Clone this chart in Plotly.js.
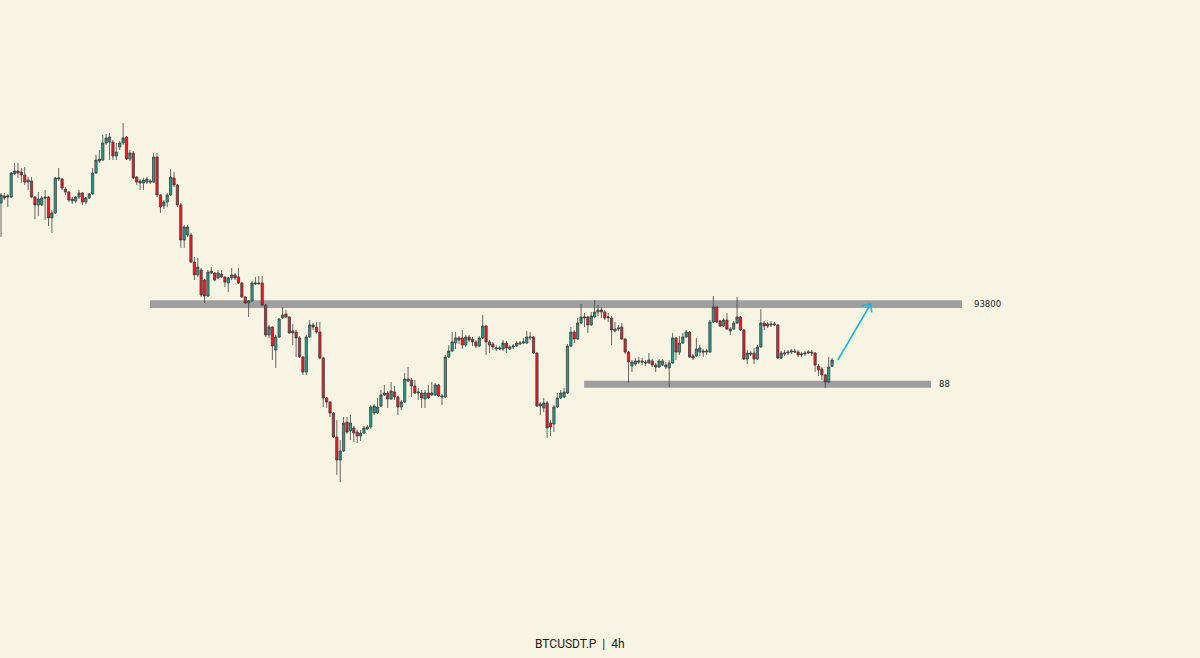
<!DOCTYPE html>
<html>
<head>
<meta charset="utf-8">
<script src="https://cdn.plot.ly/plotly-3.0.1.min.js"></script>
<style>
  html, body { margin: 0; padding: 0; background: #f8f4e3; }
  #chart { width: 1200px; height: 658px; }
</style>
</head>
<body>
<div id="chart"></div>
<script>
// BTCUSDT.P 4h candles
const openP = [
101180,101690,101620,101620,103300,103520,103440,103230,102710,102790,
101620,101040,101040,101620,101620,100090,100450,102930,102930,102200,
101980,101330,101330,101620,101910,101250,101550,101840,103370,104250,
104320,105560,105630,105630,104610,105270,105560,106000,104390,104830,
103080,102640,102640,102710,102790,102710,104540,101770,100960,101250,
101770,103010,102500,101040,98480,98850,98850,96870,95930,96290,
95560,94390,96070,96070,95710,96000,95780,95340,95710,95930,
95780,95340,94320,93880,94030,95270,95340,95340,93730,91550,
92130,90450,91400,92790,93080,92860,91690,91760,91330,89940,
88840,91400,92280,92130,91760,89870,86950,86650,85850,84100,
82420,83080,85190,84540,84760,84460,84170,84390,84680,84830,
85850,85850,86360,87310,87310,86870,87390,87020,86290,86650,
88190,88260,87820,87310,87310,86870,87310,87170,87170,87900,
87020,87020,89940,90380,90960,91330,91330,90810,91400,91250,
91040,90740,91330,92200,91040,90890,90520,90520,90520,90960,
90520,90670,90740,90890,90960,90960,91330,91400,90230,86360,
86220,86580,85120,85050,86290,86950,87020,87310,90740,91760,
91250,92420,92790,92860,92280,92860,93220,93370,93220,92790,
92790,91840,91980,92130,91250,90300,89280,89430,89570,89650,
89570,89500,89650,89350,89210,89350,89350,89140,89500,91330,
90300,90960,91400,91760,90010,90010,90300,90380,90300,90300,
92490,93590,92570,92200,92640,91840,91980,92420,92860,91910,
89790,90230,90230,89790,90670,92420,92350,92280,92280,92280,
89870,90160,90230,90300,90380,90300,90090,90160,90230,90300,
90230,89280,89060,88630,88110,89260];
const highP = [
101910,101910,101840,103440,104100,104100,103740,103810,103080,103080,
101690,101980,101690,102130,101690,100670,103080,103740,103010,102350,
102060,101620,101690,102130,101980,101620,101910,103740,104690,105050,
106150,106220,106290,105780,105560,105710,107020,106070,105050,104980,
103150,102930,103010,103080,102930,104830,104830,101840,101400,101910,
103660,103440,102570,101180,99580,99580,98990,97240,97170,96440,
95630,96290,96510,96140,96290,96290,95850,95780,96440,96070,
96440,95410,94390,94100,95490,95780,95850,95850,93810,92280,
92200,91550,92790,93590,93370,92930,92350,91910,91470,90010,
91550,92640,92420,92490,92490,89940,87020,86730,85920,85340,
83880,85560,85560,85710,84900,84610,84610,84900,84980,86440,
86510,86940,87530,87900,87460,88110,87820,87090,86800,88770,
89210,88410,88260,87680,87530,87530,87900,88110,88040,87970,
87240,90090,90810,91760,91760,91470,91910,91550,91550,91400,
91180,91470,93010,92280,91180,91040,90810,90740,91180,91110,
90810,90890,91110,91110,91330,91840,91760,91470,90300,86650,
86940,86730,85340,86440,87310,87530,87680,90890,92130,91910,
92790,93810,93150,92930,93220,94100,93730,93590,93370,93150,
92930,92490,92280,92420,91330,90380,89720,89870,89940,89870,
89720,90230,89790,89500,89790,89790,89570,89720,91690,91400,
91470,91690,91910,91840,90160,91330,90810,90520,90520,92640,
94390,93660,92640,92790,93150,92130,92570,94320,92930,91980,
90450,90380,90600,90810,93440,92570,92490,92570,92490,92350,
90380,90450,90450,90520,90520,90450,90300,90380,90450,90450,
90300,89430,89210,88700,89940,89870];
const lowP = [
98700,101400,100890,101550,103230,103010,102640,102500,102130,101550,
100010,100230,100960,99940,99500,98990,100380,102790,102130,101770,
101250,101110,101180,101470,101040,101110,101470,101770,103300,104100,
104250,105420,104320,104320,104320,105050,105420,104320,104250,102930,
102500,102130,102130,102570,102570,102640,101620,100450,100740,100890,
101690,102350,100890,97900,97900,98700,96800,95560,95780,94320,
93880,94320,96000,95490,95630,95710,95050,94680,95560,95560,
95270,94250,93810,92860,93960,95200,95200,93660,91400,91330,
89720,89140,91330,92710,92790,91620,90810,89940,89870,88630,
88630,91330,91910,91620,89790,86290,86220,85560,84030,81330,
80810,83000,84320,83880,83730,83660,83810,84320,84610,84680,
85710,85780,86290,87090,86220,86800,86800,85710,86070,86580,
88110,87020,87240,86800,86220,86220,86870,87090,87090,87020,
86440,86950,89870,90300,90520,90890,90520,90670,91040,90740,
90600,90670,91250,90090,90230,90450,90380,90450,90380,90230,
90450,90520,90670,90810,90890,90890,91180,90160,86290,85710,
85920,84030,84170,84460,86220,86870,86950,87240,90670,90960,
91180,92350,92130,91690,92200,92790,92930,92790,92640,92490,
90810,91760,91840,91180,90160,88040,88840,89280,89430,89350,
89280,89430,89210,88840,89140,89280,89060,87750,89430,89720,
90090,90890,91330,89870,89720,89940,90010,89940,90090,90230,
92420,92420,92130,92130,91910,91550,91910,92350,91840,89720,
89430,90010,89430,89720,90600,91910,92060,92130,92200,89790,
89790,90010,90090,90160,90230,89940,89940,90010,90160,90010,
88840,88550,88260,87680,88040,89210];
const closeP = [
101770,101550,101690,103370,103520,103370,103230,102710,102860,101620,
101040,101470,101550,101550,100090,100450,103010,103010,102280,101980,
101400,101470,101620,101910,101250,101550,101840,103370,104320,104390,
105560,105930,106000,104610,104900,105560,105930,104390,104830,103010,
102710,102790,102860,102930,102710,104540,101770,100890,101250,101770,
103080,102500,101040,98480,99430,99430,96870,95930,96510,94470,
94390,96140,96210,95560,96070,95780,95410,95710,95930,95710,
95340,94320,93880,94030,95340,95340,95300,93730,91550,92130,
90740,91400,92710,93010,92860,91690,91840,91330,89940,88840,
91400,92280,92130,91760,89870,86950,86650,85850,84100,82420,
83080,85120,84460,85120,84390,84170,84390,84760,84830,86290,
86360,86290,87170,87170,86870,87460,87020,86290,86650,88330,
88330,87820,87310,87380,86950,87310,86950,87310,87900,87090,
87090,89940,90380,91040,91330,91180,90810,91400,91180,91040,
90740,91330,92200,91040,90810,90670,90600,90600,90960,90600,
90670,90740,90960,90960,91040,91400,91400,90230,86360,86510,
86580,84760,84830,86290,86950,87310,87380,90740,91760,91250,
92420,92860,92860,92280,92930,93220,93370,93220,92790,92860,
91910,91980,92060,91250,90300,89570,89570,89650,89650,89570,
89500,89720,89350,89210,89650,89650,89210,89500,91330,90300,
90960,91400,91760,89940,89870,90520,90600,90300,90380,92490,
93590,92490,92200,92640,91980,91980,92420,92860,91910,89790,
90230,90160,89790,90670,92420,92200,92200,92350,92350,89870,
90230,90230,90300,90380,90300,90090,90160,90230,90300,90230,
89350,88990,88630,88110,89210,89720];

// Drawn levels and labels
const resistanceLevel = 93800;
const resistanceLabel = "93800";
const supportLevel = 88000;
const supportLabel = "88";
const chartTitle = "BTCUSDT.P  |  4h";

const xIdx = openP.map((_, i) => i);

const trace = {
  type: 'candlestick',
  x: xIdx,
  open: openP, high: highP, low: lowP, close: closeP,
  increasing: { fillcolor: '#1fa08a', line: { color: '#404040', width: 0.8 } },
  decreasing: { fillcolor: '#ff1020', line: { color: '#404040', width: 0.8 } },
  whiskerwidth: 0,
  hoverinfo: 'skip',
  showlegend: false
};

const bandGray = '#9e9e9e';
const arrowColor = '#1eb6d8';

const layout = {
  width: 1200, height: 658,
  margin: { l: 0, r: 0, t: 0, b: 0 },
  paper_bgcolor: '#f8f4e3',
  plot_bgcolor: '#f8f4e3',
  showlegend: false,
  boxgap: 0.05,
  xaxis: { range: [-0.3, 353.47], visible: false, showgrid: false, zeroline: false, rangeslider: { visible: false }, fixedrange: true },
  yaxis: { range: [67966, 116000], visible: false, showgrid: false, zeroline: false, fixedrange: true },
  shapes: [
    { type: 'rect', layer: 'below', xref: 'x', yref: 'y', x0: 43.9, x1: 283.3,
      y0: resistanceLevel - 290, y1: resistanceLevel + 290, fillcolor: bandGray, line: { width: 0 } },
    { type: 'rect', layer: 'below', xref: 'x', yref: 'y', x0: 171.9, x1: 274.2,
      y0: supportLevel - 300, y1: supportLevel + 210, fillcolor: bandGray, line: { width: 0 } },
    { type: 'line', xref: 'x', yref: 'y', x0: 246.7, y0: 89720, x1: 256.4, y1: 93808,
      line: { color: arrowColor, width: 1.6 } },
    { type: 'line', xref: 'x', yref: 'y', x0: 256.4, y0: 93808, x1: 253.45, y1: 93684,
      line: { color: arrowColor, width: 1.6 } },
    { type: 'line', xref: 'x', yref: 'y', x0: 256.4, y0: 93808, x1: 256.7, y1: 93202,
      line: { color: arrowColor, width: 1.6 } }
  ],
  annotations: [
    { text: resistanceLabel, xref: 'paper', yref: 'y', x: 972 / 1200, y: resistanceLevel,
      xanchor: 'left', yanchor: 'middle', showarrow: false,
      font: { family: 'DejaVu Sans, sans-serif', size: 8.5, color: '#222' } },
    { text: supportLabel, xref: 'paper', yref: 'y', x: 937 / 1200, y: supportLevel,
      xanchor: 'left', yanchor: 'middle', showarrow: false,
      font: { family: 'DejaVu Sans, sans-serif', size: 8.5, color: '#222' } },
    { text: chartTitle, xref: 'paper', yref: 'paper', x: 580 / 1200, y: 1 - 644 / 658,
      xanchor: 'center', yanchor: 'middle', showarrow: false,
      font: { family: 'Roboto, sans-serif', size: 12, color: '#1a1a1a' } }
  ]
};

Plotly.newPlot('chart', [trace], layout, { staticPlot: true, displayModeBar: false });
</script>
</body>
</html>
